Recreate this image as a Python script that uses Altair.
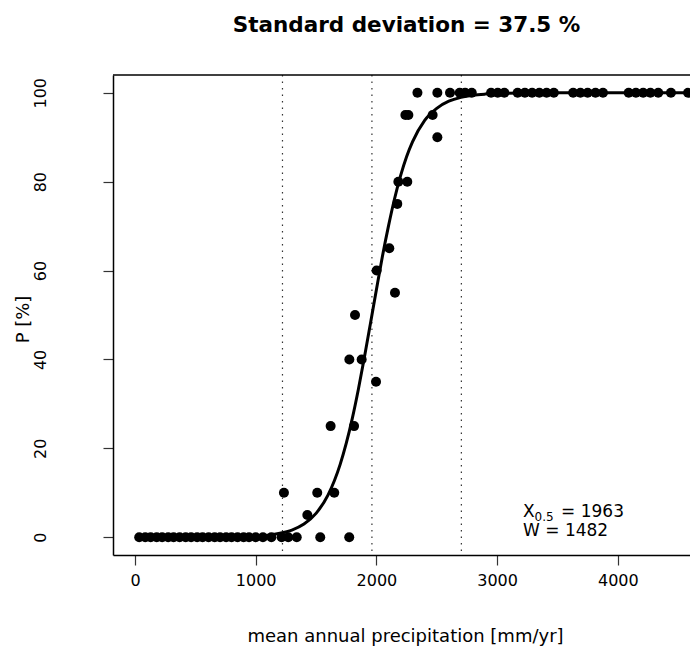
import altair as alt
import pandas as pd

# ---------------- data ----------------
zero_x = [35, 85, 130, 180, 225, 275, 320, 370, 420, 465, 515, 560, 610, 660,
          705, 755, 800, 850, 900, 945, 1000, 1060, 1130, 1215, 1270, 1340,
          1535, 1775]
rise_x = [1428, 1234, 1510, 1651, 1621, 1815, 1997, 1776, 1878, 1823, 2154,
          2002, 2107, 2173, 2182, 2256, 2505, 2240, 2265, 2466]
rise_y = [5, 10, 10, 10, 25, 25, 35, 40, 40, 50, 55, 60, 65, 75, 80, 80, 90,
          95, 95, 95]
full_x = [2340, 2505, 2610, 2690, 2735, 2790, 2950, 3005, 3060, 3170, 3230,
          3290, 3350, 3410, 3470, 3630, 3690, 3750, 3815, 3877, 4090, 4150,
          4210, 4270, 4335, 4440, 4582]

curve_x = [0, 500, 1000, 1100, 1200, 1300, 1400, 1500, 1600, 1700, 1750, 1800,
           1850, 1900, 1950, 2000, 2050, 2100, 2150, 2200, 2250, 2300, 2400,
           2500, 2600, 2700, 2800, 2900, 3000, 3200, 3500, 4000, 4700]
curve_y = [0.0, 0.01, 0.25, 0.47, 0.88, 1.61, 2.96, 5.37, 9.53, 16.4, 21.1,
           26.7, 33.2, 40.4, 48.0, 55.7, 63.2, 70.0, 76.1, 81.3, 85.6, 89.0,
           93.8, 96.5, 98.1, 98.97, 99.45, 99.70, 99.84, 99.95, 99.99, 100.0,
           100.0]

vline_x = [1222, 1963, 2704]

x_ticks = [0, 1000, 2000, 3000, 4000]
y_ticks = [0, 20, 40, 60, 80, 100]

title_text = "Standard deviation = 37.5 %"
x_title = "mean annual precipitation [mm/yr]"
y_title = "P [%]"
x05_value = "1963"
w_value = "1482"

# ---------------- tables ----------------
pts = pd.DataFrame({
    "x": zero_x + rise_x + full_x,
    "y": [0] * len(zero_x) + rise_y + [100] * len(full_x),
})
curve = pd.DataFrame({"x": curve_x, "y": curve_y})
vlines = pd.DataFrame({"x": vline_x})

FONT = "DejaVu Sans"
x_dom = [-182, 4598]
y_dom = [-4, 104]
xs = alt.Scale(domain=x_dom, nice=False, zero=False)
ys = alt.Scale(domain=y_dom, nice=False, zero=False)

x_axis = alt.Axis(values=x_ticks, format="d", grid=False, tickSize=10,
                  labelPadding=7, labelFontSize=16, labelBaseline="top",
                  labelFont=FONT, labelColor="black", labelFlush=False,
                  domainColor="black", domainWidth=1.5, tickColor="#333",
                  tickWidth=1.2, title=x_title, titleFont=FONT,
                  titleFontSize=18, titleFontWeight="normal",
                  titleColor="black", titleX=292, titleY=86,
                  titleAlign="center", titleBaseline="alphabetic")
y_axis = alt.Axis(values=y_ticks, grid=False, tickSize=10, labelPadding=58,
                  labelAngle=270, labelAlign="center",
                  labelBaseline="alphabetic", labelFontSize=16,
                  labelFont=FONT, labelColor="black", domainColor="black",
                  domainWidth=1.5, tickColor="#333", tickWidth=1.2,
                  title=y_title, titleFont=FONT, titleFontSize=18,
                  titleFontWeight="normal", titleColor="black",
                  titleAngle=270, titleX=-85, titleY=244,
                  titleAlign="center", titleBaseline="alphabetic")

X = lambda: alt.X("x:Q", scale=xs, axis=x_axis)
Y = lambda: alt.Y("y:Q", scale=ys, axis=y_axis)

rules = alt.Chart(vlines).mark_rule(
    color="#333", strokeWidth=1.2, strokeDash=[1.5, 5]
).encode(x=X())

line = alt.Chart(curve).mark_line(
    color="black", strokeWidth=3, interpolate="monotone", clip=True
).encode(x=X(), y=Y())

dots = alt.Chart(pts).mark_circle(
    size=100, color="black", opacity=1
).encode(x=X(), y=Y())

one = pd.DataFrame({"x": [3215], "y": [4.3]})


def label(txt, size, dx=0, dy=0):
    return alt.Chart(one).mark_text(
        text=txt, font=FONT, fontSize=size, color="black", align="left",
        baseline="alphabetic", dx=dx, dy=dy
    ).encode(x=X(), y=Y())


t1 = label("X", 17, dy=-1)
t2 = label("0.5", 12, dx=11.5, dy=3)
t3 = label("= " + x05_value, 17, dx=38, dy=-1)
t4 = label("W = " + w_value, 17, dy=18)

top_border = alt.Chart(pd.DataFrame({"y": [y_dom[1]]})).mark_rule(
    color="black", strokeWidth=1.5
).encode(y=Y())

chart = alt.layer(rules, line, dots, t1, t2, t3, t4, top_border).properties(
    width=577, height=480,
    autosize=alt.AutoSizeParams(type="none"),
    padding={"left": 113, "top": 75, "right": 0, "bottom": 106},
    title=alt.Title(title_text, font=FONT, fontSize=21.5, fontWeight="bold",
                    anchor="middle", frame="group", baseline="alphabetic",
                    offset=21, dx=5, color="black"),
    background="white",
).configure_view(stroke=None)

chart.save("out.html", embed_options={"renderer": "svg", "actions": False})
